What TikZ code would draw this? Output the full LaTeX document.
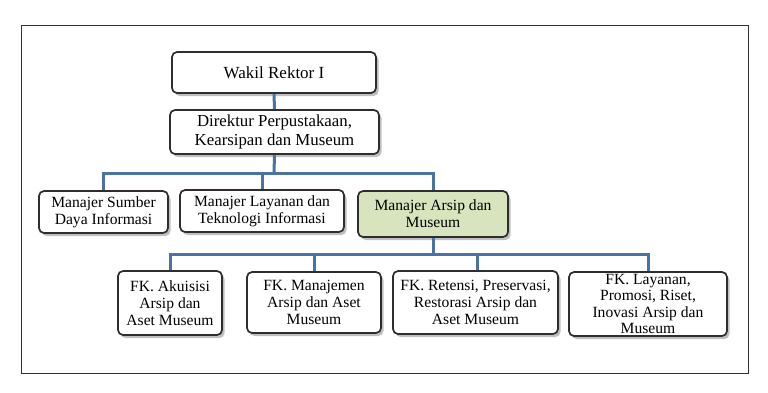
\documentclass[tikz,border=0pt]{standalone}
\usepackage{fontspec}
\setmainfont{Liberation Serif}
\usetikzlibrary{shadows}
\definecolor{conn}{HTML}{4A73A3}
\definecolor{boxline}{HTML}{2E2E2E}
\definecolor{greenfill}{HTML}{D8E4BE}
\begin{document}
\begin{tikzpicture}[x=1pt,y=-1pt,
  orgbox/.style={draw=boxline, line width=1.7pt, rounded corners=5pt, fill=white,
    align=center, inner sep=1pt, font=\fontsize{15.6}{17}\selectfont,
    drop shadow={shadow xshift=2.5pt, shadow yshift=-3pt, opacity=0.5, fill=gray}},
  link/.style={draw=conn, line width=3pt}]
\useasboundingbox (0,0) rectangle (768,392);
\draw[draw=black!80, line width=1pt] (21,25) rectangle (748,373);
% nodes
\node[orgbox, minimum width=204pt, minimum height=41pt, font=\fontsize{17}{18}\selectfont] (wr) at (274,72.5) {Wakil Rektor I};
\node[orgbox, minimum width=209pt, minimum height=44pt, font=\fontsize{16.8}{18.5}\selectfont] (dir) at (274.5,132) {Direktur Perpustakaan,\\Kearsipan dan Museum};
\node[orgbox, minimum width=129pt, minimum height=42pt] (m1) at (103.5,212) {Manajer Sumber\\Daya Informasi};
\node[orgbox, minimum width=164pt, minimum height=42pt] (m2) at (262,211) {Manajer Layanan dan\\Teknologi Informasi};
\node[orgbox, fill=greenfill, minimum width=150pt, minimum height=46pt] (m3) at (433,214) {Manajer Arsip dan\\Museum};
\node[orgbox, minimum width=104pt, minimum height=64pt] (f1) at (170,303) {FK. Akuisisi\\Arsip dan\\Aset Museum};
\node[orgbox, minimum width=134pt, minimum height=61pt] (f2) at (314,302.5) {FK. Manajemen\\Arsip dan Aset\\Museum};
\node[orgbox, minimum width=165pt, minimum height=63pt] (f3) at (475.5,302.5) {FK. Retensi, Preservasi,\\Restorasi Arsip dan\\Aset Museum};
\node[orgbox, minimum width=158pt, minimum height=64pt, font=\fontsize{15.6}{16.3}\selectfont] (f4) at (648,304) {FK. Layanan,\\Promosi, Riset,\\Inovasi Arsip dan\\Museum};
% connectors
\coordinate (bus1) at (274,173);
\coordinate (bus2) at (433,254);
\draw[link] (wr.south) -- (dir.north);
\draw[link] (dir.south) -- (bus1);
\draw[link] (m1.north) |- (bus1) -| (m3.north);
\draw[link] (m2.north) |- (bus1);
\draw[link] (m3.south) -- (bus2);
\draw[link] (f1.north) |- (bus2) -| (f4.north);
\draw[link] (f2.north) |- (bus2);
\draw[link] ([xshift=1.5pt]f3.north) |- (bus2);
\end{tikzpicture}
\end{document}
